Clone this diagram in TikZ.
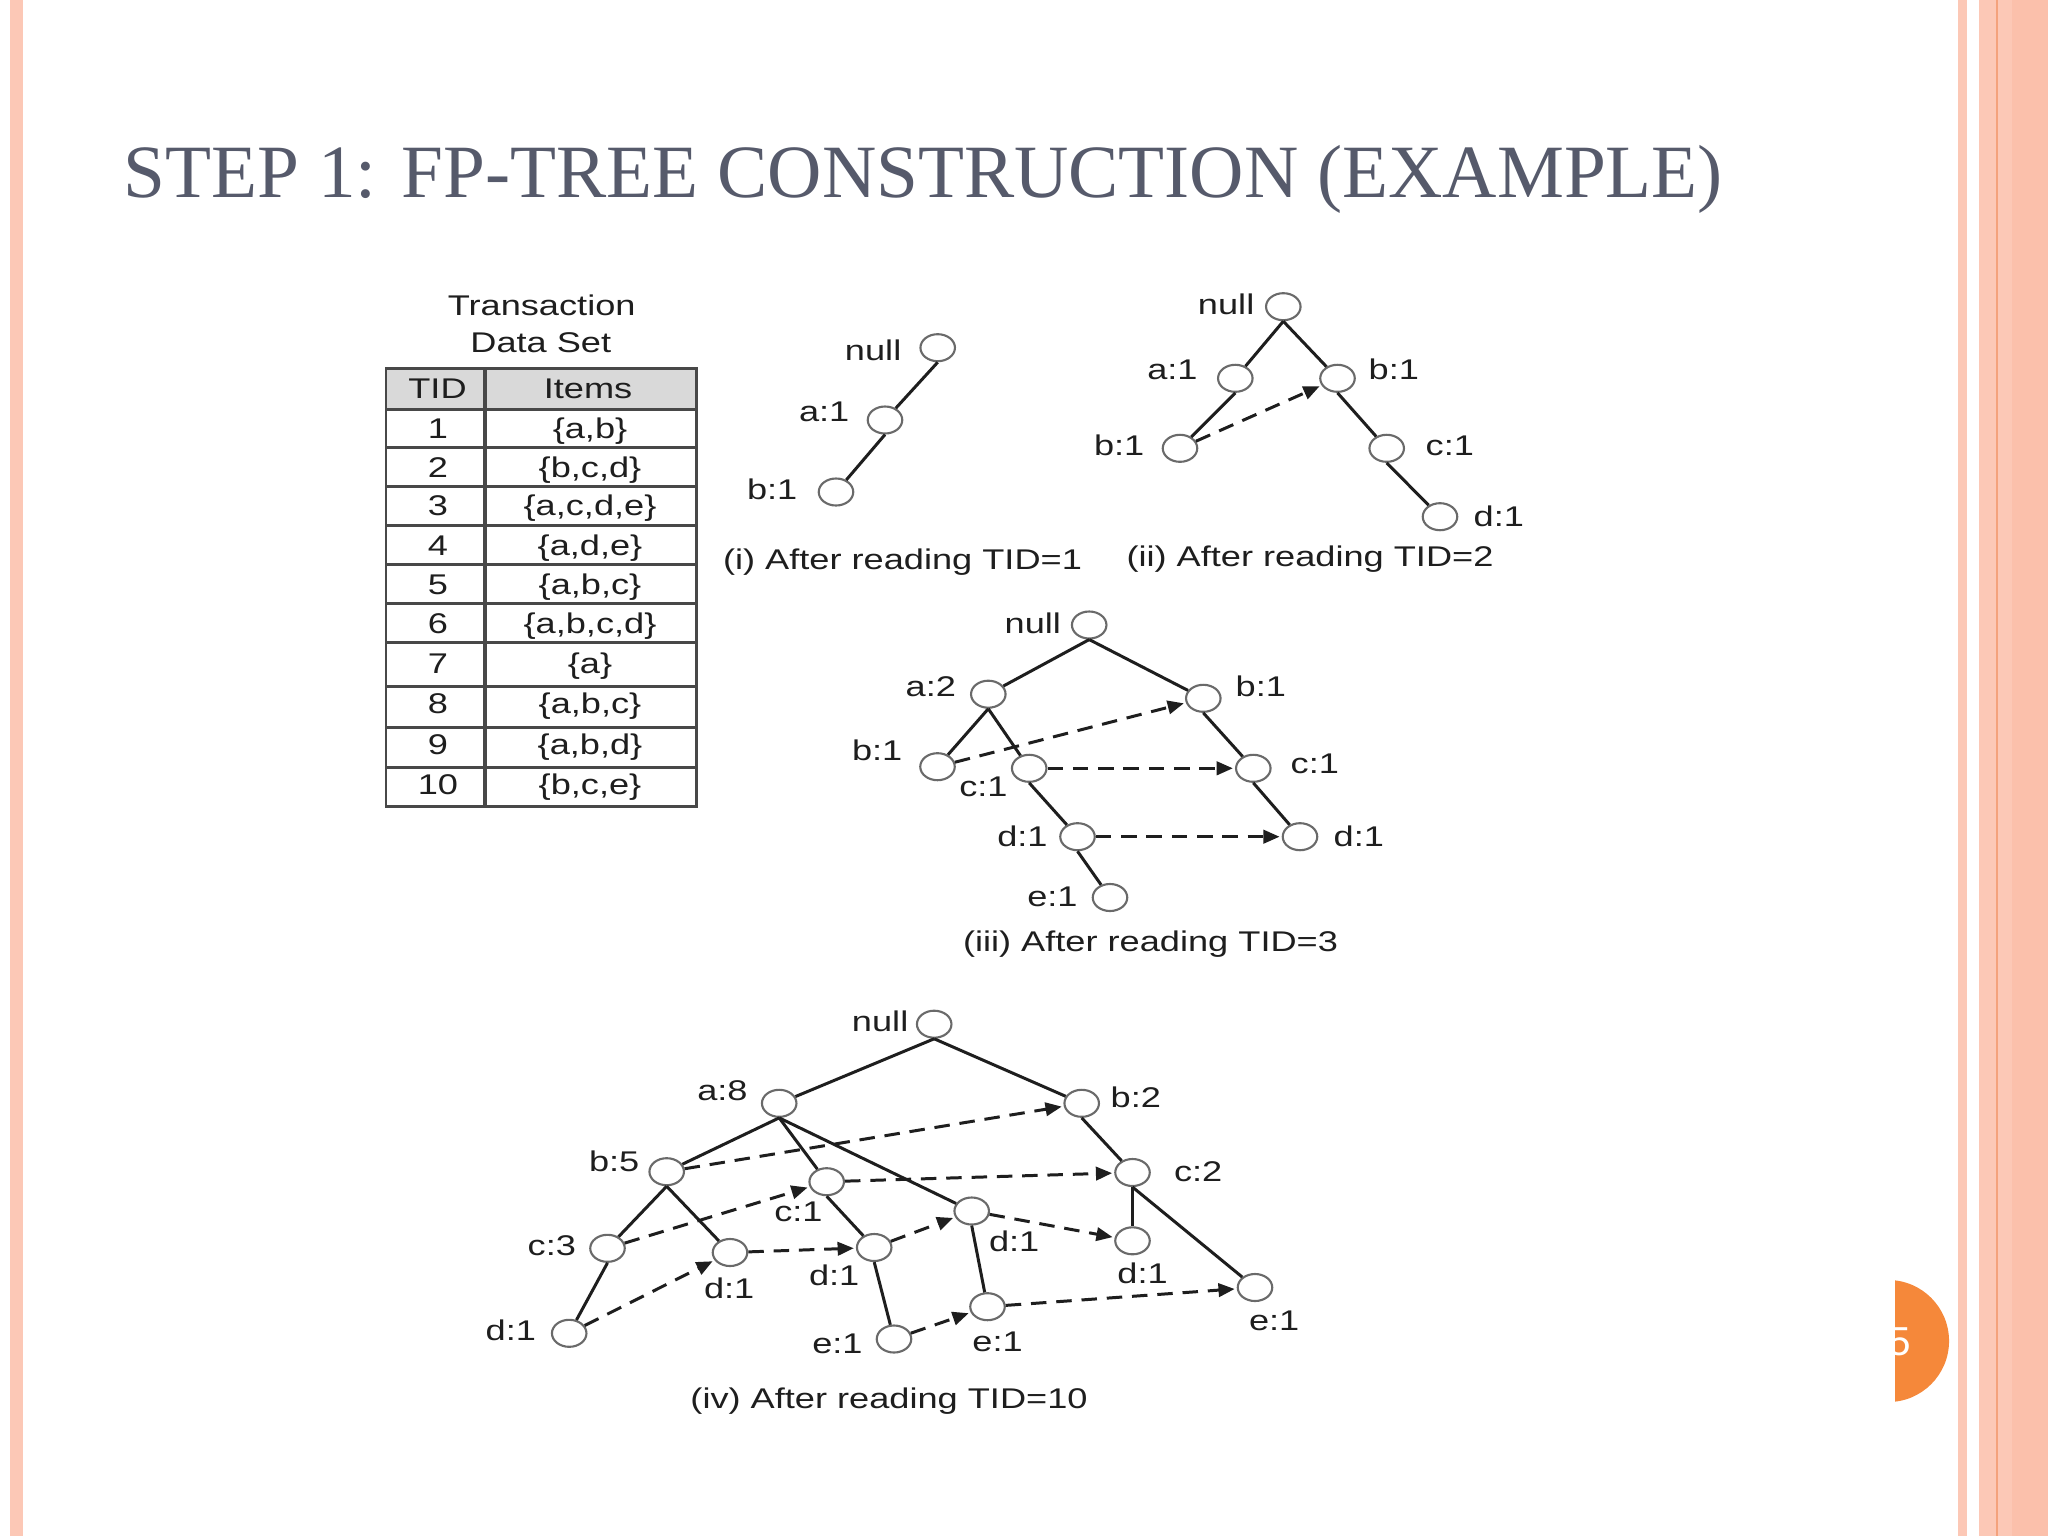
\documentclass[tikz,border=0pt]{standalone}
\usepackage{fontspec}
\usepackage{graphicx}
\usetikzlibrary{shapes.geometric,arrows.meta}
\newfontfamily\figsans{Liberation Sans}
\newfontfamily\titleserif{Liberation Serif}
\newcommand\figfont{\figsans\fontsize{8.1pt}{9.7pt}\selectfont}
\newcommand\wt[1]{\scalebox{1.27}[1]{#1}}
\definecolor{titlecol}{HTML}{565A6B}
\definecolor{stripe}{HTML}{FCC8B6}
\definecolor{stripedark}{HTML}{FBC0AB}
\definecolor{stripeline}{HTML}{F4A27C}
\definecolor{pgorange}{HTML}{F5883A}
\definecolor{ink}{HTML}{1E1E1E}
\definecolor{rim}{HTML}{6A6A6A}
\definecolor{tabline}{HTML}{484848}
\definecolor{tabhead}{HTML}{D9D9D9}
\begin{document}
\begin{tikzpicture}[x=0.01cm,y=-0.01cm,
  nd/.style={ellipse, draw=rim, line width=0.6pt, minimum width=0.345cm, minimum height=0.27cm, inner sep=0pt, fill=white},
  lb/.style={font=\figfont, text=ink, inner sep=0pt},
  ed/.style={draw=ink, line width=0.85pt},
  ptr/.style={draw=ink, line width=0.85pt, dash pattern=on 4.4pt off 2.8pt, -{Triangle[length=4.6pt,width=3.8pt]}, shorten >=0.6pt},
  tl/.style={draw=tabline, line width=0.85pt}]
\useasboundingbox (0,0) rectangle (2048,1536);
\fill[white] (0,0) rectangle (2048,1536);
% slide borders
\fill[stripe] (10,0) rectangle (23,1536);
\fill[stripe] (1958,0) rectangle (1967,1536);
\fill[stripe] (1979,0) rectangle (2048,1536);
\fill[stripedark] (2012,0) rectangle (2048,1536);
\fill[stripeline] (1995.5,0) rectangle (1997.5,1536);
% page number badge
\begin{scope}
  \clip (1895,1270) rectangle (1957,1412);
  \fill[pgorange] (1888,1341) circle[radius=0.61cm];
  \node[font=\figsans\fontsize{11.5pt}{13pt}\selectfont, text=white, inner sep=0pt] (pgnum) at (1900,1342) {5};
\end{scope}
% title
\node[font=\titleserif\fontsize{21.4pt}{25pt}\selectfont, text=titlecol, anchor=base west, inner sep=0pt] (title) at (123,197) {STEP 1: FP-TREE CONSTRUCTION (EXAMPLE)};

% ---------- transaction table ----------
\node[lb, anchor=base] (tabt1) at (541.7,315.6) {\wt{Transaction}};
\node[lb, anchor=base] (tabt2) at (540.8,352.4) {\wt{Data Set}};
\fill[tabhead] (386,368.2) rectangle (696,409.3);
\draw[tl] (386,368.2) rectangle (696,806.7);
\foreach \yy in {409.3,447.8,486.4,525,564.6,603.9,642.9,686.4,727,767.4} \draw[tl] (386,\yy) -- (696,\yy);
\draw[tl, line width=1.1pt] (485,368.2) -- (485,806.7);
\node[lb, anchor=base] (hTID) at (437.5,398) {\wt{TID}};
\node[lb, anchor=base] (hIt) at (588,398) {\wt{Items}};
\node[lb, anchor=base] (r1a) at (438,438.4) {\wt{1}};
\node[lb, anchor=base] (r1b) at (590,438.4) {\wt{\{a,b\}}};
\node[lb, anchor=base] (r2a) at (438,477) {\wt{2}};
\node[lb, anchor=base] (r2b) at (590,477) {\wt{\{b,c,d\}}};
\node[lb, anchor=base] (r3a) at (438,515.5) {\wt{3}};
\node[lb, anchor=base] (r3b) at (590,515.5) {\wt{\{a,c,d,e\}}};
\node[lb, anchor=base] (r4a) at (438,555.9) {\wt{4}};
\node[lb, anchor=base] (r4b) at (590,555.9) {\wt{\{a,d,e\}}};
\node[lb, anchor=base] (r5a) at (438,594.5) {\wt{5}};
\node[lb, anchor=base] (r5b) at (590,594.5) {\wt{\{a,b,c\}}};
\node[lb, anchor=base] (r6a) at (438,633) {\wt{6}};
\node[lb, anchor=base] (r6b) at (590,633) {\wt{\{a,b,c,d\}}};
\node[lb, anchor=base] (r7a) at (438,673.4) {\wt{7}};
\node[lb, anchor=base] (r7b) at (590,673.4) {\wt{\{a\}}};
\node[lb, anchor=base] (r8a) at (438,713.7) {\wt{8}};
\node[lb, anchor=base] (r8b) at (590,713.7) {\wt{\{a,b,c\}}};
\node[lb, anchor=base] (r9a) at (438,754) {\wt{9}};
\node[lb, anchor=base] (r9b) at (590,754) {\wt{\{a,b,d\}}};
\node[lb, anchor=base] (r10a) at (438,794.4) {\wt{10}};
\node[lb, anchor=base] (r10b) at (590,794.4) {\wt{\{b,c,e\}}};

% ---------- tree (i) ----------
\node[nd] (i0) at (937.7,347.7) {};
\node[nd] (i1) at (885,420) {};
\node[nd] (i2) at (836,492) {};
\node[lb, anchor=base east] (i0l) at (902,360) {\wt{null}};
\node[lb, anchor=base east] (i1l) at (850,421.7) {\wt{a:1}};
\node[lb, anchor=base east] (i2l) at (798,499) {\wt{b:1}};
\draw[ed] (i0.south) -- (i1);
\draw[ed] (i1.south) -- (i2);
\node[lb, anchor=base] (icap) at (902.5,569) {\wt{(i) After reading TID=1}};

% ---------- tree (ii) ----------
\node[nd] (ii0) at (1283.3,306.7) {};
\node[nd] (ii1) at (1235.3,378.3) {};
\node[nd] (ii2) at (1337.5,378.3) {};
\node[nd] (ii3) at (1180,448.3) {};
\node[nd] (ii4) at (1386.7,448.3) {};
\node[nd] (ii5) at (1440,516.7) {};
\node[lb, anchor=base east] (ii0l) at (1255,314.3) {\wt{null}};
\node[lb, anchor=base east] (ii1l) at (1198.3,379) {\wt{a:1}};
\node[lb, anchor=base west] (ii2l) at (1368,379) {\wt{b:1}};
\node[lb, anchor=base east] (ii3l) at (1145,455) {\wt{b:1}};
\node[lb, anchor=base west] (ii4l) at (1425,455) {\wt{c:1}};
\node[lb, anchor=base west] (ii5l) at (1473,526.7) {\wt{d:1}};
\draw[ed] (ii0.south) -- (ii1);
\draw[ed] (ii0.south) -- (ii2);
\draw[ed] (ii1.south) -- (ii3);
\draw[ed] (ii2.south) -- (ii4);
\draw[ed] (ii4.south) -- (ii5);
\draw[ptr] (ii3) -- (ii2);
\node[lb, anchor=base] (iicap) at (1310,566.7) {\wt{(ii) After reading TID=2}};

% ---------- tree (iii) ----------
\node[nd] (iii0) at (1089.2,625) {};
\node[nd] (iii1) at (988.3,694.2) {};
\node[nd] (iii2) at (1203.3,698.3) {};
\node[nd] (iii3) at (937.5,766.7) {};
\node[nd] (iii4) at (1029.2,768.3) {};
\node[nd] (iii5) at (1253.3,768.3) {};
\node[nd] (iii6) at (1077.5,836.7) {};
\node[nd] (iii7) at (1300,836.7) {};
\node[nd] (iii8) at (1110,897.5) {};
\node[lb, anchor=base east] (iii0l) at (1061.7,633.3) {\wt{null}};
\node[lb, anchor=base east] (iii1l) at (956.7,696.7) {\wt{a:2}};
\node[lb, anchor=base west] (iii2l) at (1235,696.7) {\wt{b:1}};
\node[lb, anchor=base east] (iii3l) at (903,760) {\wt{b:1}};
\node[lb, anchor=base east] (iii4l) at (1008.3,796.7) {\wt{c:1}};
\node[lb, anchor=base west] (iii5l) at (1290,773.3) {\wt{c:1}};
\node[lb, anchor=base east] (iii6l) at (1048.3,846.7) {\wt{d:1}};
\node[lb, anchor=base west] (iii7l) at (1333,846.7) {\wt{d:1}};
\node[lb, anchor=base east] (iii8l) at (1078.3,906.7) {\wt{e:1}};
\draw[ed] (iii0.south) -- (iii1);
\draw[ed] (iii0.south) -- (iii2);
\draw[ed] (iii1.south) -- (iii3);
\draw[ed] (iii1.south) -- (iii4);
\draw[ed] (iii4.south) -- (iii6);
\draw[ed] (iii6.south) -- (iii8);
\draw[ed] (iii2.south) -- (iii5);
\draw[ed] (iii5.south) -- (iii7);
\draw[ptr] (iii3) -- (iii2);
\draw[ptr] (iii4) -- (iii5);
\draw[ptr] (iii6) -- (iii7);
\node[lb, anchor=base] (iiicap) at (1150.5,951.7) {\wt{(iii) After reading TID=3}};

% ---------- tree (iv) ----------
\node[nd] (iv0) at (934.2,1024.2) {};
\node[nd] (iv1) at (779.2,1103.3) {};
\node[nd] (iv2) at (1081.7,1103.3) {};
\node[nd] (iv3) at (666.7,1171.7) {};
\node[nd] (iv4) at (826.7,1181.7) {};
\node[nd] (iv5) at (1132.5,1172.5) {};
\node[nd] (iv6) at (971.7,1211) {};
\node[nd] (iv7) at (1132.5,1240.8) {};
\node[nd] (iv8) at (607.5,1248.3) {};
\node[nd] (iv9) at (730,1252.5) {};
\node[nd] (iv10) at (874.2,1247.5) {};
\node[nd] (iv11) at (569.2,1333.3) {};
\node[nd] (iv12) at (894,1339) {};
\node[nd] (iv13) at (987.5,1306.7) {};
\node[nd] (iv14) at (1255,1287.5) {};
\node[lb, anchor=base east] (iv0l) at (909,1031) {\wt{null}};
\node[lb, anchor=base east] (iv1l) at (748.3,1100) {\wt{a:8}};
\node[lb, anchor=base west] (iv2l) at (1110,1107.3) {\wt{b:2}};
\node[lb, anchor=base east] (iv3l) at (640,1171.7) {\wt{b:5}};
\node[lb, anchor=base east] (iv4l) at (823.3,1221.7) {\wt{c:1}};
\node[lb, anchor=base west] (iv5l) at (1173.3,1181.7) {\wt{c:2}};
\node[lb, anchor=base west] (iv6l) at (988.3,1251.7) {\wt{d:1}};
\node[lb, anchor=base west] (iv7l) at (1116.7,1283.3) {\wt{d:1}};
\node[lb, anchor=base east] (iv8l) at (576.7,1255) {\wt{c:3}};
\node[lb, anchor=base west] (iv9l) at (703.3,1298.3) {\wt{d:1}};
\node[lb, anchor=base east] (iv10l) at (860,1285) {\wt{d:1}};
\node[lb, anchor=base east] (iv11l) at (536.7,1340) {\wt{d:1}};
\node[lb, anchor=base east] (iv12l) at (863.3,1353.3) {\wt{e:1}};
\node[lb, anchor=base west] (iv13l) at (971.7,1351.7) {\wt{e:1}};
\node[lb, anchor=base west] (iv14l) at (1248.3,1330.7) {\wt{e:1}};
\draw[ed] (iv0.south) -- (iv1);
\draw[ed] (iv0.south) -- (iv2);
\draw[ed] (iv1.south) -- (iv3);
\draw[ed] (iv1.south) -- (iv4);
\draw[ed] (iv1.south) -- (iv6);
\draw[ed] (iv3.south) -- (iv8);
\draw[ed] (iv3.south) -- (iv9);
\draw[ed] (iv8.south) -- (iv11);
\draw[ed] (iv4.south) -- (iv10);
\draw[ed] (iv10.south) -- (iv12);
\draw[ed] (iv6.south) -- (iv13);
\draw[ed] (iv2.south) -- (iv5);
\draw[ed] (iv5.south) -- (iv7);
\draw[ed] (iv5.south) -- (iv14);
\draw[ptr] (iv3) -- (iv2);
\draw[ptr] (iv8) -- (iv4);
\draw[ptr] (iv4) -- (iv5);
\draw[ptr] (iv11) -- (iv9);
\draw[ptr] (iv9) -- (iv10);
\draw[ptr] (iv10) -- (iv6);
\draw[ptr] (iv6) -- (iv7);
\draw[ptr] (iv12) -- (iv13);
\draw[ptr] (iv13) -- (iv14);
\node[lb, anchor=base] (ivcap) at (889,1408) {\wt{(iv) After reading TID=10}};
\end{tikzpicture}
\end{document}
